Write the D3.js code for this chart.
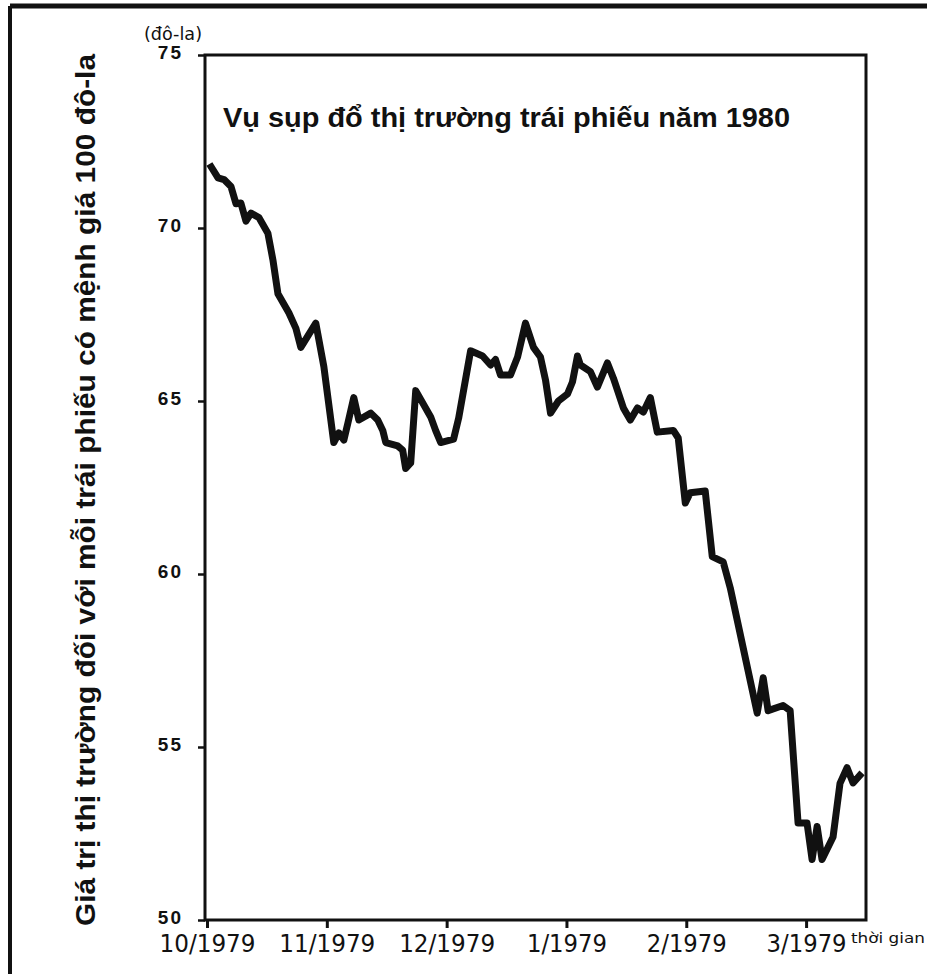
<!DOCTYPE html>
<html>
<head>
<meta charset="utf-8">
<script src="https://cdn.jsdelivr.net/npm/d3@7"></script>
<style>
  html, body { margin: 0; padding: 0; background: #fff; }
  svg { display: block; }
</style>
</head>
<body>
<svg id="chart" width="927" height="974"></svg>
<script>
// ---- data (x = months since 10/1979, y = price in dollars) ----
const monthOffset = [0.02, 0.092, 0.142, 0.2, 0.242, 0.283, 0.325, 0.367, 0.433, 0.508, 0.55, 0.592,
  0.683, 0.742, 0.783, 0.908, 0.975, 1.058, 1.1, 1.142, 1.175, 1.225, 1.267, 1.367, 1.425, 1.467,
  1.492, 1.592, 1.633, 1.658, 1.7, 1.742, 1.867, 1.908, 1.95, 2.058, 2.1, 2.2, 2.3, 2.367, 2.408,
  2.45, 2.533, 2.592, 2.658, 2.725, 2.783, 2.825, 2.867, 2.933, 3.008, 3.05, 3.092, 3.117, 3.2,
  3.258, 3.342, 3.392, 3.475, 3.533, 3.592, 3.642, 3.7, 3.758, 3.892, 3.933, 3.992, 4.033, 4.158,
  4.217, 4.308, 4.367, 4.592, 4.642, 4.683, 4.808, 4.867, 4.933, 5.008, 5.05, 5.092, 5.133, 5.225,
  5.283, 5.342, 5.392, 5.467];
const bondPrice = [71.85, 71.45, 71.4, 71.2, 70.7, 70.72, 70.2, 70.43, 70.3, 69.85, 69.08, 68.1,
  67.55, 67.1, 66.55, 67.25, 66.0, 63.8, 64.08, 63.87, 64.35, 65.1, 64.45, 64.65, 64.45, 64.15,
  63.8, 63.7, 63.58, 63.05, 63.21, 65.3, 64.54, 64.15, 63.8, 63.9, 64.5, 66.45, 66.3, 66.04, 66.2,
  65.75, 65.75, 66.27, 67.25, 66.55, 66.27, 65.61, 64.65, 65.0, 65.2, 65.55, 66.3, 66.04, 65.85,
  65.4, 66.1, 65.66, 64.8, 64.45, 64.8, 64.68, 65.1, 64.1, 64.15, 63.93, 62.05, 62.35, 62.4,
  60.5, 60.35, 59.6, 55.98, 57.0, 56.05, 56.2, 56.05, 52.8, 52.8, 51.75, 52.7, 51.75, 52.4,
  53.95, 54.4, 53.96, 54.25];
const monthTicks = [0, 1, 2, 3, 4, 5];
const monthLabels = ["10/1979", "11/1979", "12/1979", "1/1979", "2/1979", "3/1979"];
const priceTicks = [50, 55, 60, 65, 70, 75];
const titleText = "Vụ sụp đổ thị trường trái phiếu năm 1980";
const yLabelText = "Giá trị thị trường đối với mỗi trái phiếu có mệnh giá 100 đô-la";
const unitText = "(đô-la)";
const xUnitText = "thời gian";

// ---- layout ----
const svg = d3.select("#chart");
const L = 205, R = 866, T = 55, B = 920;
const x = d3.scaleLinear().domain([0, 5.5]).range([207, R]);
const y = d3.scaleLinear().domain([50, 75]).range([B, T]);

// page border (scanned page edge)
svg.append("line").attr("x1", 10).attr("x2", 927).attr("y1", 6).attr("y2", 6)
  .attr("stroke", "#111").attr("stroke-width", 5);
svg.append("line").attr("x1", 10).attr("x2", 10).attr("y1", 6).attr("y2", 974)
  .attr("stroke", "#111").attr("stroke-width", 4);

// x axis
const xAxis = svg.append("g").attr("transform", `translate(0,${B})`)
  .call(d3.axisBottom(x).tickValues(monthTicks).tickSize(8)
    .tickFormat((d, i) => monthLabels[i]));
xAxis.select(".domain").remove();
xAxis.selectAll(".tick line").attr("stroke", "#111").attr("stroke-width", 3);
xAxis.selectAll(".tick text")
  .attr("y", 13).attr("dy", "0.76em")
  .attr("fill", "#111")
  .style("font-family", "'DejaVu Sans', sans-serif")
  .style("font-size", "25px")
  .attr("textLength", 96).attr("lengthAdjust", "spacingAndGlyphs");
xAxis.selectAll(".tick text").filter((d, i) => i === 3).attr("textLength", 80);
xAxis.selectAll(".tick text").filter((d, i) => i === 4 || i === 5).attr("textLength", 80);

// y axis
const yAxis = svg.append("g").attr("transform", `translate(${L},0)`)
  .call(d3.axisLeft(y).tickValues(priceTicks).tickSize(7).tickPadding(15));
yAxis.select(".domain").remove();
yAxis.selectAll(".tick line").attr("stroke", "#111").attr("stroke-width", 2.5);
yAxis.selectAll(".tick text")
  .attr("dy", "0.2em")
  .attr("fill", "#111")
  .style("font-family", "'Liberation Sans', Arial, sans-serif")
  .style("font-weight", "bold")
  .style("font-size", "19px")
  .style("letter-spacing", "2px");

// frame
svg.append("rect").attr("x", L).attr("y", T).attr("width", R - L).attr("height", B - T)
  .attr("fill", "none").attr("stroke", "#111").attr("stroke-width", 3);

// line
const line = d3.line().x((d, i) => x(monthOffset[i])).y(d => y(d));
svg.append("path").datum(bondPrice)
  .attr("d", line)
  .attr("fill", "none").attr("stroke", "#111")
  .attr("stroke-width", 7)
  .attr("stroke-linejoin", "round").attr("stroke-linecap", "butt");

// title
svg.append("text").attr("x", 223).attr("y", 127)
  .text(titleText)
  .attr("fill", "#111")
  .style("font-family", "'Liberation Sans', Arial, sans-serif")
  .style("font-weight", "bold")
  .style("font-size", "28px")
  .attr("textLength", 567).attr("lengthAdjust", "spacingAndGlyphs");

// y label
svg.append("text")
  .attr("transform", "translate(95,490) rotate(-90)")
  .attr("text-anchor", "middle")
  .text(yLabelText)
  .attr("fill", "#111")
  .style("font-family", "'Liberation Sans', Arial, sans-serif")
  .style("font-weight", "bold")
  .style("font-size", "27px")
  .attr("textLength", 872).attr("lengthAdjust", "spacingAndGlyphs");

// unit label
svg.append("text").attr("x", 173).attr("y", 40).attr("text-anchor", "middle")
  .text(unitText)
  .attr("fill", "#111")
  .style("font-family", "'DejaVu Sans', sans-serif")
  .style("font-size", "17px")
  .attr("textLength", 58).attr("lengthAdjust", "spacingAndGlyphs");

// x unit label
svg.append("text").attr("x", 851).attr("y", 943)
  .text(xUnitText)
  .attr("fill", "#111")
  .style("font-family", "'DejaVu Sans', sans-serif")
  .style("font-size", "14px")
  .attr("textLength", 74).attr("lengthAdjust", "spacingAndGlyphs");
</script>
</body>
</html>
